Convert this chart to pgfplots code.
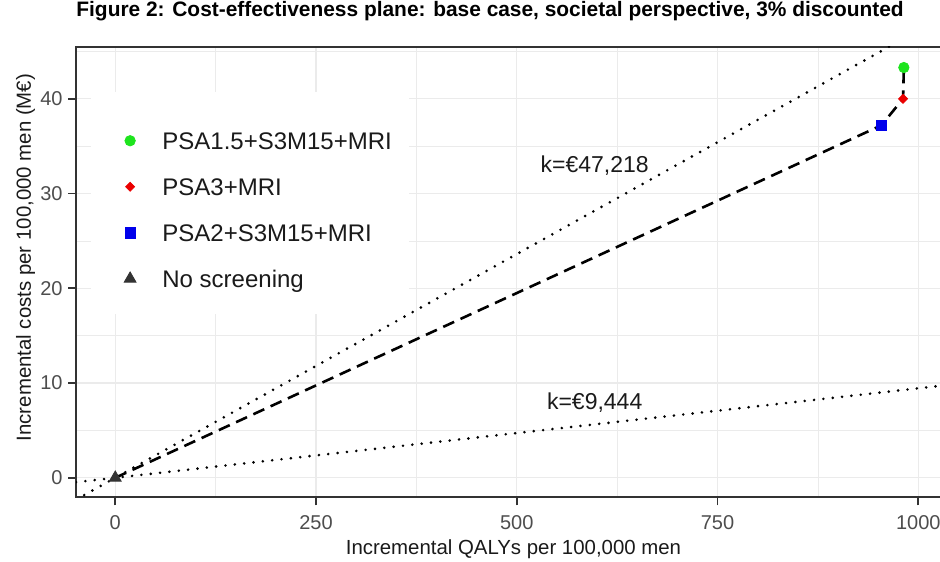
\documentclass[border=0pt]{standalone}
\usepackage{fontspec}
\setmainfont{Liberation Sans}
\usepackage{pgfplots}
\pgfplotsset{compat=1.18}
\definecolor{gridgray}{RGB}{235,235,235}
\definecolor{gray20}{RGB}{51,51,51}
\definecolor{gray30}{RGB}{77,77,77}
\definecolor{ptgreen}{RGB}{30,228,30}
\definecolor{ptred}{RGB}{235,0,0}
\definecolor{ptblue}{RGB}{0,0,235}
\definecolor{txt}{RGB}{26,26,26}

\begin{document}
\begin{tikzpicture}
\useasboundingbox (0,0) rectangle (470pt,280.5pt);
\begin{axis}[
  at={(38pt,31.85pt)}, anchor=south west,
  scale only axis, width=434pt, height=225.3pt,
  xmin=-48.9, xmax=1032, ymin=-2.06, ymax=45.5,
  xtick={0,250,500,750,1000}, minor xtick={125,375,625,875},
  ytick={0,10,20,30,40}, minor ytick={5,15,25,35,45},
  grid=both,
  major grid style={gridgray, line width=0.7pt},
  minor grid style={gridgray, line width=0.4pt},
  axis line style={gray20, line width=0.9pt},
  tick align=outside, tick pos=left,
  major tick length=4pt, minor tick length=0pt,
  tick style={gray20, line width=0.9pt},
  /pgf/number format/assume math mode=true,
  /pgf/number format/1000 sep={},
  ticklabel style={font=\fontsize{10}{12}\selectfont, text=gray30, inner sep=0pt},
  xticklabel style={anchor=north, yshift=-4.85pt},
  yticklabel style={anchor=east, xshift=-2.5pt},
  title={Figure 2: Cost-effectiveness plane: base case, societal perspective, 3\% discounted},
  title style={at={(axis description cs:0,1.0408)}, anchor=base west, inner sep=0pt,
    font=\bfseries\fontsize{10.45}{12}\selectfont, text=black},
  xlabel={Incremental QALYs per 100,000 men},
  xlabel style={at={(axis description cs:0.504,-0.128)}, anchor=base, inner sep=0pt,
    font=\fontsize{10.2}{12}\selectfont, text=txt},
  ylabel={Incremental costs per 100,000 men (M€)},
  ylabel style={at={(axis description cs:-0.058,0.532)}, anchor=center, inner sep=0pt,
    font=\fontsize{10.2}{12}\selectfont, text=txt},
  legend cell align=left,
  legend style={at={(axis description cs:0.0173,0.9)}, anchor=north west,
    draw=none, fill=white, inner xsep=8.5pt, inner ysep=11pt,
    font=\fontsize{12}{14}\selectfont, text=txt, row sep=12pt,
    cells={anchor=base west},
    nodes={inner sep=0pt, text height=8.5pt, text depth=2.5pt},
    /tikz/row 1/.append style={nodes={text height=17.6pt}},
    /tikz/every odd column/.append style={column sep=13.2pt}},
  legend image code/.code={\path (-10.65pt,4.3pt);
    \draw[mark repeat=2,mark phase=2,#1]
    plot coordinates {(0pt,4.3pt)(0pt,4.3pt)(0pt,4.3pt)};},
]
% willingness-to-pay thresholds
\addplot[forget plot, black, line width=1.45pt, line cap=round,
  dash pattern=on 0pt off 4.7pt] coordinates {(-48.9,-2.309) (1032,48.729)};
\addplot[forget plot, black, line width=1.45pt, line cap=round,
  dash pattern=on 0pt off 4.7pt] coordinates {(-48.9,-0.462) (1032,9.746)};
% efficiency frontier
\addplot[forget plot, black, line width=1.3pt, dash pattern=on 6pt off 3.5pt]
  coordinates {(0,0) (954,37.2) (981,40.0) (982,43.3)};
% strategies
\addplot[only marks, mark=*, mark size=2.6pt, color=ptgreen] coordinates {(982,43.3)};
\addlegendentry{PSA1.5+S3M15+MRI}
\addplot[only marks, mark=square*, mark options={rotate=45}, mark size=1.6pt, color=ptred]
  coordinates {(981,40.0)};
\addlegendentry{PSA3+MRI}
\addplot[only marks, mark=square*, mark size=2.6pt, color=ptblue] coordinates {(954,37.2)};
\addlegendentry{PSA2+S3M15+MRI}
\addplot[only marks, mark=triangle*, mark size=3.4pt, color=gray20] coordinates {(0,0)};
\addlegendentry{No screening}
\node[font=\fontsize{11.5}{13}\selectfont, text=txt] at (axis cs:597,32.9) {k=€47,218};
\node[font=\fontsize{11.5}{13}\selectfont, text=txt] at (axis cs:597,7.9) {k=€9,444};
\end{axis}
\end{tikzpicture}
\end{document}
